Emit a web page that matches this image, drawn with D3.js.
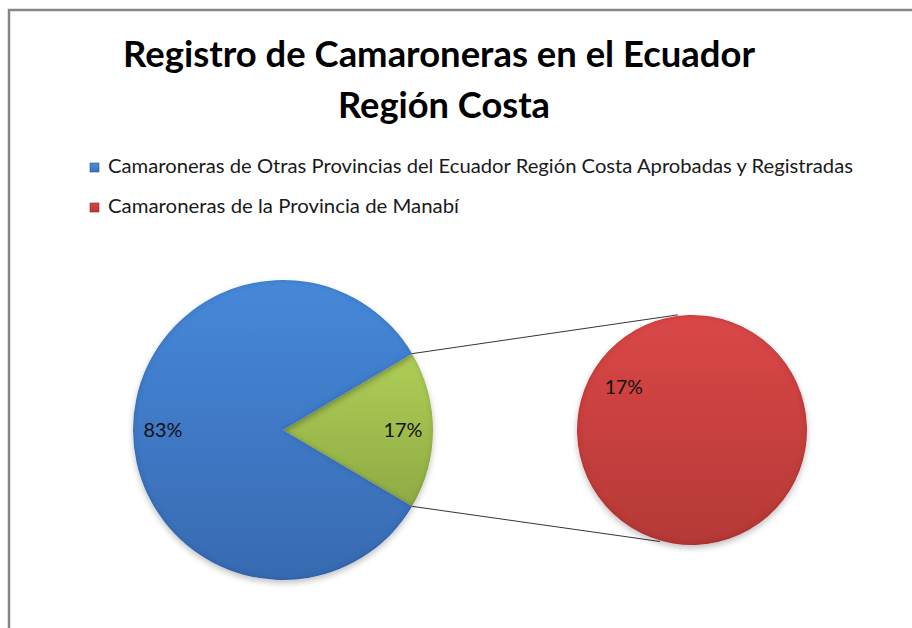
<!DOCTYPE html>
<html>
<head>
<meta charset="utf-8">
<script src="https://cdn.jsdelivr.net/npm/d3@7"></script>
<style>
  body { margin: 0; background: #fff; }
  svg { display: block; font-family: Lato, "Open Sans", sans-serif; }
</style>
</head>
<body>
<svg id="chart" width="912" height="628"></svg>
<script>
// data
const titleLines = ["Registro de Camaroneras en el Ecuador", "Región Costa"];
const categories = [
  "Camaroneras de Otras Provincias del Ecuador Región Costa Aprobadas y Registradas",
  "Camaroneras de la Provincia de Manabí"
];
const shares = [83, 17];           // % of total
const secondShares = [17];          // slices moved into the second pie
const labels = ["83%", "17%"];
const secondLabels = ["17%"];

const svg = d3.select("#chart");

// frame
svg.append("rect")
  .attr("x", 9).attr("y", 10)
  .attr("width", 920).attr("height", 640)
  .attr("fill", "#fff")
  .attr("stroke", "#868686").attr("stroke-width", 2.5);

// gradients + shadow / bevel
const defs = svg.append("defs");
function grad(id, top, bottom) {
  const g = defs.append("linearGradient").attr("id", id)
    .attr("x1", 0).attr("y1", 0).attr("x2", 0).attr("y2", 1);
  g.append("stop").attr("offset", "0%").attr("stop-color", top);
  g.append("stop").attr("offset", "100%").attr("stop-color", bottom);
}
grad("gBlue", "#4688d9", "#386ab2");
grad("gGreen", "#afce56", "#8eab45");
grad("gRed", "#da4747", "#b53936");
grad("lBlue", "#4f8fdc", "#3a6fb8");
grad("lRed", "#d64444", "#b83a38");

const fx = defs.append("filter").attr("id", "bevel")
  .attr("x", "-20%").attr("y", "-20%").attr("width", "140%").attr("height", "140%");
fx.append("feGaussianBlur").attr("in", "SourceAlpha").attr("stdDeviation", 2.5).attr("result", "blur");
fx.append("feComposite").attr("in", "SourceAlpha").attr("in2", "blur")
  .attr("operator", "arithmetic").attr("k2", 1).attr("k3", -1).attr("result", "edge");
fx.append("feFlood").attr("flood-color", "#000").attr("flood-opacity", 0.35).attr("result", "dark");
fx.append("feComposite").attr("in", "dark").attr("in2", "edge").attr("operator", "in").attr("result", "rim");
fx.append("feOffset").attr("in", "SourceAlpha").attr("dy", 3).attr("result", "off");
fx.append("feGaussianBlur").attr("in", "off").attr("stdDeviation", 3).attr("result", "sblur");
fx.append("feComponentTransfer").attr("in", "sblur").attr("result", "shadow")
  .append("feFuncA").attr("type", "linear").attr("slope", 0.25);
const merge = fx.append("feMerge");
merge.append("feMergeNode").attr("in", "shadow");
merge.append("feMergeNode").attr("in", "SourceGraphic");
merge.append("feMergeNode").attr("in", "rim");

// fit text to a measured width from the reference
function fit(sel, w) {
  const n = sel.node();
  const cur = n.getComputedTextLength();
  if (Math.abs(cur - w) / w > 0.01) {
    sel.attr("textLength", w).attr("lengthAdjust", "spacingAndGlyphs");
  }
}

// title
const t1 = svg.append("text").attr("x", 439).attr("y", 67)
  .attr("text-anchor", "middle").attr("font-size", 37).attr("font-weight", "bold")
  .attr("fill", "#000").text(titleLines[0]);
fit(t1, 632);
const t2 = svg.append("text").attr("x", 444).attr("y", 118)
  .attr("text-anchor", "middle").attr("font-size", 37).attr("font-weight", "bold")
  .attr("fill", "#000").text(titleLines[1]);
fit(t2, 212);

// legend
const legendFills = ["url(#lBlue)", "url(#lRed)"];
const legendWidths = [745, 351];
const leg = svg.append("g").attr("transform", "translate(90,163)");
categories.forEach((c, i) => {
  const row = leg.append("g").attr("transform", `translate(0, ${i * 40})`);
  row.append("rect").attr("width", 9).attr("height", 9)
    .attr("fill", legendFills[i]).attr("stroke", i ? "#8c2a28" : "#2a5590").attr("stroke-width", 0.6);
  const tx = row.append("text").attr("x", 18).attr("y", 10)
    .attr("font-size", 19.5).attr("fill", "#1a1a1a").text(c);
  fit(tx, legendWidths[i]);
});

// main pie: first value is the slice taken out (green), second is the rest
const R = 150, r2 = 115;
const c1 = [283, 430], c2 = [692, 430];
const mainValues = [d3.sum(secondShares), shares[0]];
const half = Math.PI * mainValues[0] / d3.sum(mainValues);
const pie = d3.pie().sort(null)
  .startAngle(Math.PI / 2 - half).endAngle(Math.PI / 2 - half + 2 * Math.PI);
const arcs = pie(mainValues);
const arc = d3.arc().innerRadius(0).outerRadius(R);
const labelArc = d3.arc().innerRadius(R * 0.8).outerRadius(R * 0.8);

// connector lines (drawn first, under the pies)
const secPie = d3.pie().sort(null)
  .startAngle(2 * Math.PI * 122 / 360).endAngle(2 * Math.PI * 122 / 360 + 2 * Math.PI);
const secArcs = secPie(secondShares);
const p1 = d3.pointRadial(arcs[0].startAngle, R);
const p2 = d3.pointRadial(arcs[0].endAngle, R);
const q1 = d3.pointRadial(-7 * Math.PI / 180, r2 + 1);
const q2 = d3.pointRadial(196 * Math.PI / 180, r2 + 1);
const lines = svg.append("g").attr("stroke", "#000").attr("stroke-width", 0.8);
lines.append("line")
  .attr("x1", c1[0] + p1[0]).attr("y1", c1[1] + p1[1])
  .attr("x2", c2[0] + q1[0]).attr("y2", c2[1] + q1[1]);
lines.append("line")
  .attr("x1", c1[0] + p2[0]).attr("y1", c1[1] + p2[1])
  .attr("x2", c2[0] + q2[0]).attr("y2", c2[1] + q2[1]);

const mainFills = ["url(#gGreen)", "url(#gBlue)"];
const mainLabelText = [labels[1], labels[0]];
const g1 = svg.append("g").attr("transform", `translate(${c1})`);
g1.selectAll("path").data(arcs).join("path")
  .attr("d", arc)
  .attr("fill", (d, i) => mainFills[i])
  .attr("filter", "url(#bevel)");
g1.selectAll("text").data(arcs).join("text")
  .attr("transform", d => `translate(${labelArc.centroid(d)})`)
  .attr("text-anchor", "middle").attr("dy", "0.36em")
  .attr("font-size", 18.5).attr("fill", "#111")
  .text((d, i) => mainLabelText[i])
  .each(function () { fit(d3.select(this), 39); });

// secondary pie
const arc2 = d3.arc().innerRadius(0).outerRadius(r2);
const label2 = d3.arc().innerRadius(r2 * 0.7).outerRadius(r2 * 0.7);
const g2 = svg.append("g").attr("transform", `translate(${c2})`);
g2.selectAll("path").data(secArcs).join("path")
  .attr("d", arc2)
  .attr("fill", "url(#gRed)")
  .attr("filter", "url(#bevel)");
g2.selectAll("text").data(secArcs).join("text")
  .attr("transform", d => `translate(${label2.centroid(d)})`)
  .attr("text-anchor", "middle").attr("dy", "0.36em")
  .attr("font-size", 18.5).attr("fill", "#111")
  .text((d, i) => secondLabels[i])
  .each(function () { fit(d3.select(this), 38); });
</script>
</body>
</html>
